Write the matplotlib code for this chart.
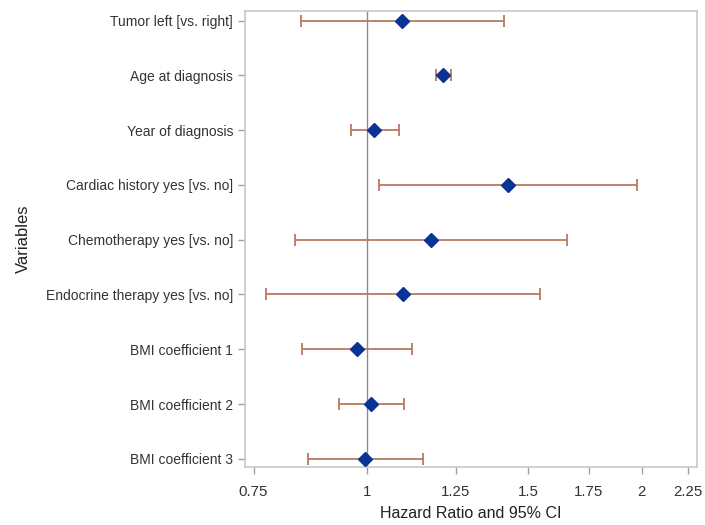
import numpy as np
import matplotlib
matplotlib.use('Agg')
import matplotlib.pyplot as plt
from matplotlib.ticker import FixedLocator, NullLocator

plt.rcParams['font.family'] = ['Liberation Sans', 'DejaVu Sans']

# hazard ratios with 95% CI
variables = ['Tumor left [vs. right]', 'Age at diagnosis', 'Year of diagnosis',
             'Cardiac history yes [vs. no]', 'Chemotherapy yes [vs. no]',
             'Endocrine therapy yes [vs. no]', 'BMI coefficient 1',
             'BMI coefficient 2', 'BMI coefficient 3']
hr = [1.091, 1.212, 1.017, 1.427, 1.175, 1.095, 0.974, 1.009, 0.993]
lower = [0.846, 1.190, 0.959, 1.029, 0.833, 0.775, 0.848, 0.931, 0.861]
upper = [1.411, 1.235, 1.083, 1.974, 1.655, 1.548, 1.119, 1.097, 1.151]
xticks = [0.75, 1, 1.25, 1.5, 1.75, 2, 2.25]
xticklabels = ['0.75', '1', '1.25', '1.5', '1.75', '2', '2.25']

hr = np.array(hr)
lower = np.array(lower)
upper = np.array(upper)
ypos = np.arange(len(variables))

fig = plt.figure(figsize=(7.05, 5.25), dpi=100)
ax = fig.add_axes([0.3475, 0.1114, 0.6412, 0.8682])

ax.axvline(1, color='#8c8c8c', lw=1, zorder=1)
ax.errorbar(hr, ypos, xerr=[hr - lower, upper - hr], fmt='none',
            ecolor='#b97a60', elinewidth=1.3, capsize=4.5, capthick=1.3, zorder=2)
ax.plot(hr, ypos, 'D', color='#0a3494', ms=7, mec='#0a3494', zorder=3)

ax.set_xscale('log')
ax.set_xlim(0.734, 2.30)
ax.xaxis.set_major_locator(FixedLocator(xticks))
ax.xaxis.set_minor_locator(NullLocator())
ax.set_xticklabels(xticklabels)
ax.set_ylim(len(variables) - 1 + 0.14, -0.18)
ax.set_yticks(ypos)
ax.set_yticklabels(variables)

for s in ax.spines.values():
    s.set_color('#c8c8c8')
    s.set_linewidth(1.2)
ax.tick_params(axis='both', colors='#a0a0a0', labelcolor='#333333',
               length=5, width=1)
ax.tick_params(axis='y', labelsize=10.0)
ax.tick_params(axis='x', labelsize=10.8, pad=8)

ax.set_xlabel('Hazard Ratio and 95% CI', fontsize=11.5, color='#222222', labelpad=5)
ax.set_ylabel('Variables', fontsize=12, color='#222222', labelpad=11)

fig.savefig('out.png', dpi=100)
